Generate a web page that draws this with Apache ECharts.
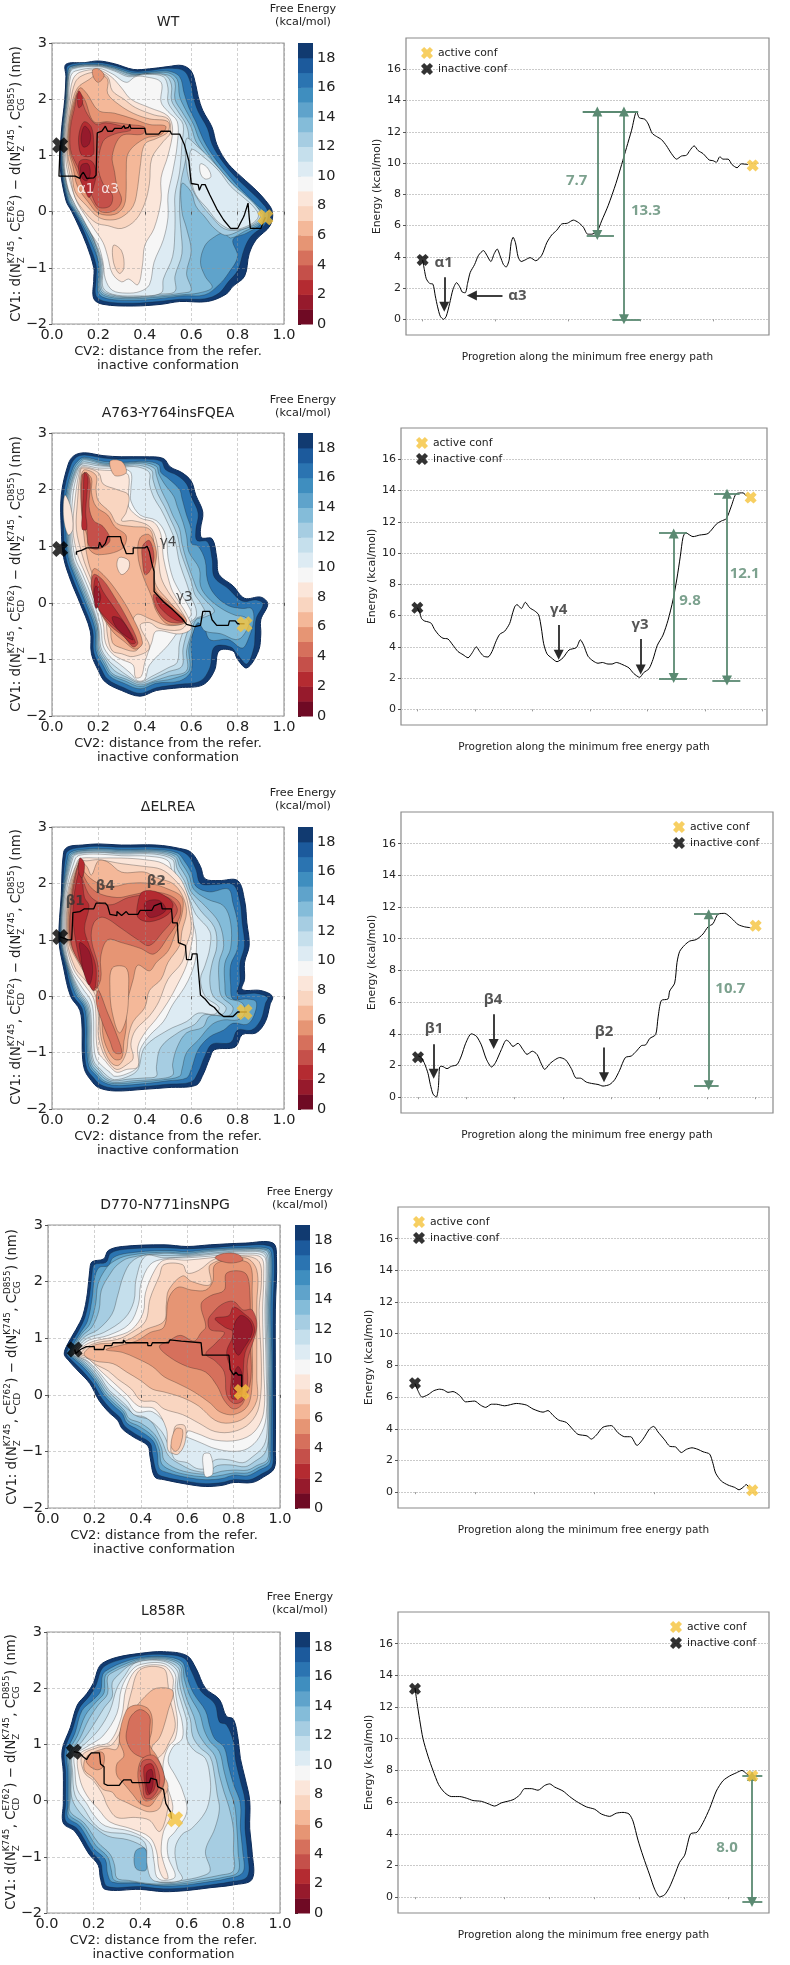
<!DOCTYPE html>
<html><head><meta charset="utf-8"><style>html,body{margin:0;padding:0;background:#fff}#c{width:790px;height:1965px}</style>
<script src="https://cdn.jsdelivr.net/npm/echarts@6/dist/echarts.min.js"></script></head><body><div id="c"></div>
<script>
const bandColors=['#6f0a24','#961a2c','#b42b31','#c5504a','#d6705c','#e69574','#f4b899','#f9d5c0','#fbe6da','#f6f6f6','#ddebf3','#c5dfec','#a6cde2','#84bcd9','#5fa3cb','#3f8ebf','#2b74b1','#1c5a9c','#113a70'];
const bandValues=[0,1,2,3,4,5,6,7,8,9,10,11,12,13,14,15,16,17,18];
const cbTicks=[0,2,4,6,8,10,12,14,16,18];
const energyTicks=[0,2,4,6,8,10,12,14,16];
const panelNames=['WT','A763-Y764insFQEA','ΔELREA','D770-N771insNPG','L858R'];

// Free-energy contour rings: [band, [cv2,cv1,cv2,cv1,...]]
const wtRings=[
[18,[.06,2.62,.14,2.65,.2,2.68,.27,2.63,.35,2.53,.42,2.54,.5,2.58,.56,2.6,.6,2.5,.62,2.25,.63,2.05,.65,1.8,.69,1.5,.71,1.2,.75,.9,.8,.68,.87,.42,.92,.2,.95,0,.94,-.25,.88,-.5,.85,-.75,.83,-1.15,.78,-1.33,.75,-1.47,.67,-1.6,.55,-1.6,.47,-1.65,.35,-1.68,.22,-1.65,.18,-1.55,.18,-1.2,.18,-1,.15,-.6,.115,-.26,.085,0,.06,.2,.035,.8,.04,1.4,.055,2,.06,2.4]],
[16,[.07,2.6,.2,2.65,.27,2.6,.35,2.5,.42,2.51,.5,2.55,.57,2.5,.6,2.25,.61,2.03,.63,1.78,.67,1.48,.69,1.2,.73,.92,.79,.62,.85,.38,.9,.18,.93,0,.92,-.22,.86,-.43,.83,-.65,.8,-1.05,.76,-1.25,.72,-1.45,.66,-1.55,.55,-1.56,.46,-1.6,.35,-1.63,.23,-1.6,.19,-1.5,.19,-1.2,.19,-.95,.16,-.58,.125,-.24,.09,.02,.065,.2,.04,.8,.043,1.4,.058,2,.063,2.4]],
[14,[.08,2.58,.2,2.62,.27,2.57,.35,2.47,.42,2.48,.5,2.5,.55,2.4,.57,2.1,.59,1.85,.62,1.6,.65,1.3,.68,1.08,.72,.85,.77,.6,.83,.33,.88,.13,.915,-.03,.9,-.22,.84,-.38,.78,-.5,.8,-.8,.76,-1.1,.72,-1.3,.66,-1.48,.56,-1.5,.46,-1.55,.35,-1.58,.24,-1.55,.2,-1.45,.2,-1.1,.2,-.9,.17,-.55,.13,-.22,.095,.03,.07,.2,.043,.8,.046,1.4,.06,2,.066,2.4]],
[13,[.08,2.57,.2,2.61,.27,2.55,.345,2.45,.42,2.46,.5,2.47,.54,2.35,.55,2.05,.575,1.82,.61,1.55,.635,1.28,.67,1.05,.71,.82,.76,.57,.815,.33,.87,.12,.91,-.04,.895,-.21,.83,-.35,.77,-.47,.74,-.38,.7,-.45,.66,-.6,.64,-.9,.66,-1.15,.69,-1.35,.63,-1.45,.56,-1.48,.46,-1.52,.35,-1.55,.245,-1.52,.205,-1.42,.205,-1.08,.2,-.87,.175,-.53,.135,-.21,.097,.04,.072,.22,.046,.8,.048,1.4,.062,2,.068,2.4]],
[12,[.085,2.56,.2,2.6,.27,2.54,.34,2.44,.42,2.45,.5,2.43,.53,2.3,.53,2,.56,1.78,.6,1.5,.62,1.25,.66,1.02,.7,.8,.75,.55,.8,.33,.86,.1,.905,-.05,.89,-.2,.82,-.32,.75,-.42,.7,-.3,.66,-.1,.62,.1,.6,.35,.56,.5,.56,0,.58,-.3,.6,-.7,.58,-1.1,.6,-1.4,.56,-1.45,.46,-1.5,.35,-1.53,.25,-1.5,.21,-1.4,.21,-1.05,.205,-.85,.18,-.52,.14,-.2,.1,.05,.075,.25,.048,.8,.05,1.4,.064,2,.07,2.4]],
[11,[.088,2.55,.2,2.59,.27,2.52,.335,2.42,.41,2.45,.49,2.42,.515,2.25,.515,1.98,.545,1.77,.58,1.53,.59,1.25,.575,.9,.555,.5,.55,0,.555,-.3,.56,-.75,.53,-1.15,.53,-1.42,.46,-1.47,.35,-1.52,.255,-1.48,.215,-1.38,.215,-1.03,.208,-.83,.18,-.5,.145,-.19,.105,.06,.078,.26,.05,.8,.052,1.4,.066,2,.072,2.4]],
[11,[.58,1.3,.63,1.15,.68,.95,.73,.72,.78,.48,.83,.3,.88,.1,.9,-.06,.875,-.21,.8,-.33,.74,-.3,.69,-.1,.64,.15,.6,.45,.58,.8]],
[10,[.6,1.1,.66,.95,.72,.72,.77,.45,.82,.27,.87,.08,.89,-.08,.86,-.22,.78,-.32,.72,-.2,.67,.05,.62,.3,.6,.6]],
[10,[.09,2.54,.2,2.58,.27,2.5,.33,2.4,.4,2.44,.48,2.4,.5,2.2,.5,1.95,.53,1.75,.565,1.55,.56,1.2,.55,.7,.53,.3,.53,0,.53,-.3,.52,-.8,.48,-1.2,.47,-1.45,.35,-1.5,.26,-1.47,.22,-1.35,.22,-1,.21,-.8,.18,-.48,.15,-.18,.11,.08,.08,.28,.052,.8,.054,1.4,.068,2,.074,2.4]],
[9,[.1,2.5,.2,2.55,.26,2.45,.32,2.3,.36,2.4,.4,2.4,.47,2.3,.47,1.95,.5,1.78,.54,1.6,.54,1.2,.52,.7,.5,.3,.5,-.1,.48,-.5,.44,-.9,.42,-1.3,.38,-1.42,.32,-1.45,.26,-1.4,.23,-1.2,.22,-.9,.2,-.6,.17,-.4,.13,-.1,.1,.12,.07,.4,.055,.8,.057,1.4,.071,2,.08,2.4]],
[9,[.64,.85,.67,.78,.685,.62,.66,.58,.64,.68]],
[8,[.12,2.48,.2,2.52,.255,2.4,.3,2.2,.34,2,.42,1.85,.5,1.7,.52,1.45,.5,1,.47,.6,.47,.2,.44,-.3,.4,-.6,.39,-.95,.37,-1.3,.33,-1.2,.3,-1.25,.26,-1.1,.24,-.8,.22,-.55,.18,-.3,.14,-.05,.11,.15,.08,.5,.06,.9,.06,1.4,.075,2,.09,2.35]],
[7,[.13,2.42,.19,2.48,.24,2.4,.26,2.15,.31,2,.36,1.85,.44,1.72,.5,1.65,.51,1.4,.48,1.25,.43,.95,.42,.5,.4,.15,.36,-.15,.3,-.3,.24,-.25,.19,-.2,.14,0,.1,.25,.08,.6,.064,1,.064,1.4,.08,1.95,.1,2.3]],
[7,[.265,-.6,.3,-.7,.31,-1,.29,-1.1,.265,-.9]],
[6,[.16,2.35,.2,2.45,.24,2.35,.24,2.1,.29,1.9,.35,1.75,.42,1.65,.5,1.6,.5,1.42,.45,1.3,.4,1.2,.38,.8,.37,.45,.35,.1,.3,-.1,.25,-.15,.2,-.1,.15,.1,.1,.35,.085,.7,.068,1,.068,1.4,.085,1.9,.11,2.2]],
[5,[.175,2.52,.2,2.54,.225,2.42,.2,2.3,.18,2.38]],
[5,[.12,2.2,.15,2.1,.2,1.8,.27,1.75,.35,1.65,.42,1.55,.49,1.52,.47,1.37,.4,1.3,.33,1.05,.32,.7,.32,.4,.31,.1,.27,-.05,.2,-.03,.16,.15,.11,.45,.09,.8,.072,1.1,.072,1.5,.09,1.9]],
[4,[.115,2.1,.14,2,.18,1.6,.24,1.6,.33,1.55,.4,1.5,.39,1.38,.3,1.35,.26,1,.27,.7,.28,.45,.3,.2,.27,.02,.21,0,.17,.2,.13,.5,.1,.8,.076,1.1,.076,1.5,.095,1.9]],
[3,[.11,2.1,.13,1.95,.15,1.75,.19,1.55,.23,1.58,.3,1.52,.34,1.45,.27,1.38,.22,1.25,.2,.8,.22,.5,.26,.3,.25,.1,.2,.08,.17,.3,.14,.55,.11,.8,.08,1.1,.08,1.5,.1,1.9]],
[2,[.14,1.6,.17,1.5,.18,1.2,.175,1,.13,1,.115,1.2,.12,1.45]],
[2,[.12,.9,.17,.9,.19,.7,.18,.45,.16,.25,.14,.4,.12,.6]],
[2,[.115,2.15,.13,2.05,.13,1.9,.115,1.85,.11,2]],
[1,[.14,1.52,.165,1.4,.16,1.2,.135,1.15,.125,1.3]],
[1,[.125,.82,.155,.85,.165,.68,.15,.55,.13,.6]]
];
const a763Rings=[
[18,[.07,2.45,.095,2.6,.14,2.65,.22,2.6,.3,2.58,.4,2.58,.48,2.55,.51,2.4,.56,2.3,.6,2.15,.62,1.9,.65,1.6,.64,1.3,.645,1.15,.69,1.13,.71,.8,.72,.5,.78,.3,.83,.08,.9,.1,.93,-.02,.9,-.3,.9,-.55,.89,-.85,.84,-1.15,.8,-1,.78,-.85,.72,-.85,.7,-1.2,.65,-1.45,.55,-1.5,.45,-1.55,.38,-1.65,.3,-1.55,.23,-1.4,.2,-1.2,.17,-.9,.165,-.5,.12,0,.08,.4,.05,.8,.04,1.3,.04,1.9]],
[16,[.08,2.42,.105,2.57,.14,2.61,.22,2.56,.3,2.54,.4,2.54,.47,2.5,.49,2.35,.54,2.25,.58,2.1,.6,1.88,.63,1.58,.62,1.28,.625,1.1,.67,1.08,.69,.78,.7,.45,.76,.25,.82,.03,.88,.05,.91,-.02,.88,-.28,.875,-.55,.87,-.8,.84,-1.08,.8,-.92,.77,-.78,.7,-.78,.68,-1.15,.64,-1.38,.55,-1.44,.45,-1.5,.38,-1.6,.31,-1.5,.24,-1.35,.21,-1.15,.18,-.88,.175,-.48,.13,.02,.09,.42,.06,.8,.05,1.3,.05,1.9]],
[14,[.09,2.38,.115,2.52,.14,2.57,.22,2.5,.3,2.48,.4,2.5,.46,2.44,.47,2.3,.5,2.2,.55,2,.56,1.85,.58,1.55,.6,1.3,.6,1.05,.63,1,.66,.75,.67,.4,.7,.15,.76,-.05,.82,-.1,.86,-.1,.87,-.3,.85,-.6,.82,-.8,.76,-.65,.68,-.65,.65,-.35,.62,-.4,.6,-.7,.6,-1.2,.55,-1.38,.45,-1.42,.38,-1.52,.31,-1.42,.25,-1.3,.22,-1.1,.19,-.85,.185,-.45,.14,.05,.1,.45,.07,.8,.06,1.3,.06,1.9]],
[13,[.095,2.36,.12,2.5,.14,2.55,.22,2.47,.3,2.46,.39,2.48,.45,2.41,.46,2.28,.485,2.1,.525,1.88,.54,1.7,.565,1.42,.58,1.18,.59,.9,.635,.6,.64,.3,.67,.1,.73,-.1,.79,-.22,.83,-.25,.85,-.35,.82,-.6,.79,-.65,.73,-.55,.66,-.5,.63,-.35,.61,-.5,.59,-.8,.59,-1.2,.52,-1.34,.44,-1.4,.38,-1.48,.315,-1.38,.255,-1.27,.225,-1.07,.195,-.83,.19,-.43,.145,.06,.105,.46,.075,.8,.065,1.3,.065,1.9]],
[12,[.1,2.34,.125,2.48,.14,2.53,.22,2.45,.3,2.44,.38,2.46,.44,2.38,.45,2.25,.47,2,.5,1.75,.52,1.55,.55,1.3,.56,1.05,.58,.75,.61,.4,.63,.2,.66,.05,.7,-.15,.66,-.25,.62,-.3,.6,-.55,.58,-.85,.58,-1.2,.5,-1.3,.44,-1.38,.38,-1.45,.32,-1.35,.26,-1.25,.23,-1.05,.2,-.82,.195,-.42,.15,.08,.11,.48,.08,.8,.07,1.3,.07,1.9]],
[11,[.102,2.32,.128,2.46,.14,2.49,.22,2.43,.3,2.42,.375,2.43,.43,2.34,.435,2.18,.455,1.93,.485,1.7,.51,1.48,.54,1.2,.555,.9,.6,.38,.615,.15,.64,0,.66,-.2,.62,-.28,.59,-.45,.565,-.8,.56,-1.12,.5,-1.22,.435,-1.34,.38,-1.42,.325,-1.32,.27,-1.2,.235,-1.02,.205,-.8,.197,-.41,.155,.09,.115,.49,.085,.8,.075,1.3,.075,1.9]],
[10,[.105,2.3,.13,2.45,.2,2.42,.3,2.4,.37,2.4,.42,2.3,.42,2.1,.44,1.85,.47,1.65,.5,1.4,.53,1.1,.55,.7,.58,.35,.6,.1,.62,-.1,.62,-.25,.58,-.4,.55,-.7,.54,-1.05,.5,-1.15,.43,-1.3,.38,-1.4,.33,-1.3,.28,-1.15,.24,-1,.21,-.78,.2,-.4,.16,.1,.12,.5,.09,.8,.08,1.3,.08,1.9]],
[9,[.11,2.28,.13,2.42,.2,2.38,.3,2.37,.34,2.3,.34,2,.34,1.8,.38,1.55,.45,1.45,.49,1.2,.5,.8,.52,.45,.55,.2,.58,0,.6,-.2,.57,-.35,.5,-.75,.42,-1.1,.4,-1.35,.37,-1.38,.34,-1.25,.29,-1.08,.25,-.95,.22,-.75,.21,-.4,.17,.12,.13,.52,.1,.8,.085,1.3,.09,1.9]],
[8,[.115,2.26,.13,2.4,.2,2.35,.3,2.32,.33,2.25,.33,1.95,.33,1.7,.38,1.5,.44,1.42,.47,1.2,.48,.8,.5,.45,.52,.2,.55,0,.58,-.2,.6,-.45,.55,-.55,.45,-.5,.43,-.7,.4,-1.05,.385,-1.3,.36,-1.32,.35,-1.1,.3,-1,.26,-.9,.23,-.7,.22,-.35,.18,.15,.14,.55,.11,.85,.09,1.3,.1,1.85]],
[8,[.055,1.9,.08,1.7,.09,1.3,.07,1.2,.05,1.5]],
[7,[.12,2.25,.13,2.38,.2,2.3,.22,2.1,.28,2,.33,1.9,.32,1.6,.3,1.45,.35,1.45,.42,1.35,.45,1.1,.46,.75,.47,.45,.5,.2,.55,-.1,.58,-.35,.55,-.48,.46,-.45,.42,-.35,.38,-.4,.42,-.8,.35,-.95,.3,-.9,.26,-.85,.24,-.6,.23,-.25,.19,.2,.15,.6,.13,.85,.105,1.3,.11,1.8]],
[6,[.125,2.22,.14,2.35,.19,2.25,.19,2,.2,1.8,.25,1.6,.28,1.4,.34,1.35,.42,1.3,.44,1,.44,.55,.45,.3,.5,.05,.55,-.2,.57,-.35,.5,-.4,.42,-.28,.37,-.2,.35,-.3,.38,-.7,.36,-.85,.3,-.8,.26,-.7,.25,-.3,.22,.1,.17,.55,.15,.85,.135,1.3,.13,1.75]],
[6,[.25,2.5,.3,2.5,.32,2.3,.27,2.25]],
[8,[.29,.8,.33,.75,.33,.6,.3,.5,.28,.65]],
[5,[.125,2.2,.14,2.3,.17,2.2,.17,1.95,.19,1.7,.24,1.55,.27,1.35,.32,1.18,.3,.95,.2,.85,.16,.95,.15,1.2,.13,1.5]],
[5,[.18,.6,.22,.5,.28,.2,.34,-.2,.39,-.7,.36,-.82,.31,-.68,.26,-.5,.2,-.1,.17,.3]],
[5,[.38,1.15,.42,1.2,.45,.9,.44,.5,.45,.2,.52,-.05,.58,-.33,.5,-.38,.45,-.15,.43,.1,.39,.5,.37,.85]],
[3,[.13,2.25,.15,2.3,.165,2.1,.16,1.7,.18,1.45,.22,1.35,.25,1.1,.2,.95,.16,1,.15,1.3,.13,1.55]],
[3,[.18,.5,.22,.4,.27,.1,.32,-.25,.37,-.7,.35,-.78,.31,-.6,.25,-.4,.2,-.1,.17,.25]],
[3,[.39,1,.42,1.1,.44,.8,.42,.55,.4,.5,.39,.75]],
[3,[.44,.15,.52,-.1,.57,-.33,.5,-.33,.45,-.1]],
[2,[.14,2.3,.155,2.2,.15,1.9,.145,1.6,.15,1.3,.13,1.3,.13,1.55,.135,1.9]],
[2,[.19,.45,.22,.2,.27,-.1,.32,-.4,.36,-.7,.34,-.72,.29,-.5,.24,-.3,.2,-.1,.18,.2]],
[2,[.45,.1,.52,-.13,.57,-.32,.53,-.3,.47,-.1]],
[1,[.19,.3,.21,.1,.19,-.1,.18,.15]],
[1,[.26,-.25,.3,-.3,.35,-.65,.33,-.62,.28,-.45]]
];
const elreaRings=[
[18,[.05,2.55,.07,2.65,.13,2.68,.2,2.7,.3,2.68,.45,2.68,.55,2.62,.6,2.55,.64,2.3,.66,2.08,.72,2.05,.8,2.05,.83,1.7,.84,1.3,.85,.9,.83,.6,.83,.3,.82,.12,.9,.1,.95,0,.94,-.15,.92,-.45,.88,-.65,.82,-.68,.79,-.9,.7,-.95,.68,-1.1,.65,-1.4,.62,-1.58,.5,-1.62,.4,-1.65,.27,-1.68,.2,-1.62,.17,-1.5,.14,-1.3,.13,-.95,.13,-.6,.12,-.25,.08,0,.05,.5,.03,1,.04,1.8]],
[16,[.06,2.52,.08,2.6,.13,2.64,.2,2.66,.3,2.64,.45,2.64,.55,2.58,.59,2.48,.62,2.25,.64,2,.7,1.98,.78,1.98,.81,1.68,.82,1.3,.83,.9,.81,.58,.81,.25,.8,.05,.88,.05,.93,-.02,.92,-.13,.9,-.42,.86,-.6,.8,-.6,.77,-.82,.69,-.85,.66,-1.05,.63,-1.35,.6,-1.52,.5,-1.56,.4,-1.6,.27,-1.63,.21,-1.57,.18,-1.45,.15,-1.28,.14,-.93,.14,-.58,.13,-.22,.09,.02,.06,.5,.034,1,.044,1.8]],
[14,[.07,2.5,.09,2.57,.13,2.6,.2,2.62,.3,2.6,.45,2.6,.54,2.54,.57,2.4,.6,2.2,.62,1.95,.68,1.85,.76,1.9,.78,1.65,.8,1.3,.8,.85,.77,.55,.77,.2,.78,-.05,.84,-.05,.88,-.1,.87,-.35,.84,-.5,.78,-.48,.74,-.6,.68,-.72,.63,-.95,.6,-1.3,.58,-1.45,.5,-1.5,.4,-1.55,.27,-1.58,.22,-1.52,.19,-1.4,.16,-1.25,.15,-.9,.15,-.55,.14,-.2,.1,.05,.065,.5,.038,1,.046,1.8]],
[13,[.075,2.48,.095,2.55,.13,2.58,.2,2.6,.3,2.58,.45,2.58,.535,2.51,.56,2.35,.59,2.15,.61,1.9,.67,1.72,.74,1.6,.77,1.3,.77,.85,.745,.58,.745,.22,.755,-.02,.82,-.12,.83,-.3,.8,-.42,.74,-.42,.69,-.5,.63,-.78,.58,-1,.56,-1.3,.55,-1.42,.48,-1.48,.38,-1.52,.27,-1.55,.225,-1.5,.195,-1.38,.165,-1.22,.155,-.89,.155,-.53,.145,-.19,.105,.065,.068,.5,.04,1,.048,1.8]],
[12,[.08,2.47,.1,2.54,.13,2.57,.2,2.58,.3,2.56,.45,2.56,.53,2.48,.55,2.3,.58,2.1,.6,1.85,.66,1.6,.72,1.3,.74,.9,.72,.6,.72,.25,.73,0,.78,-.2,.76,-.35,.68,-.35,.65,-.55,.58,-.65,.54,-.9,.52,-1.2,.52,-1.4,.45,-1.47,.35,-1.5,.27,-1.53,.23,-1.47,.2,-1.35,.17,-1.2,.16,-.88,.16,-.52,.15,-.18,.11,.08,.07,.5,.042,1,.05,1.8]],
[11,[.085,2.46,.105,2.53,.13,2.55,.2,2.56,.3,2.54,.45,2.54,.525,2.45,.54,2.25,.57,2.05,.595,1.8,.64,1.52,.7,1.22,.71,.88,.69,.58,.68,.28,.695,0,.75,-.2,.73,-.33,.655,-.33,.615,-.5,.55,-.63,.47,-.9,.45,-1.25,.45,-1.42,.4,-1.45,.33,-1.47,.27,-1.5,.235,-1.45,.205,-1.32,.175,-1.17,.165,-.86,.165,-.51,.155,-.17,.115,.09,.073,.5,.045,1,.052,1.8]],
[10,[.09,2.45,.11,2.52,.2,2.55,.3,2.52,.44,2.52,.52,2.42,.53,2.2,.56,2,.59,1.75,.62,1.45,.68,1.15,.68,.85,.66,.55,.64,.3,.66,0,.72,-.2,.7,-.32,.63,-.3,.58,-.45,.5,-.6,.4,-.9,.37,-1.3,.33,-1.42,.27,-1.48,.24,-1.42,.21,-1.3,.18,-1.15,.17,-.85,.17,-.5,.16,-.15,.12,.1,.076,.5,.05,1,.055,1.8]],
[9,[.1,2.43,.12,2.5,.2,2.52,.3,2.49,.42,2.48,.5,2.4,.52,2.15,.55,1.9,.58,1.7,.6,1.4,.62,1.1,.62,.7,.6,.4,.57,.15,.52,-.15,.48,-.45,.42,-.7,.38,-.95,.37,-1.25,.32,-1.38,.27,-1.42,.25,-1.35,.22,-1.25,.19,-1.1,.18,-.8,.18,-.45,.17,-.1,.13,.15,.08,.5,.055,1,.06,1.8]],
[8,[.11,2.4,.13,2.45,.2,2.45,.3,2.45,.4,2.42,.48,2.35,.55,2.1,.58,1.85,.6,1.55,.61,1.2,.6,.9,.58,.55,.54,.2,.5,-.1,.45,-.4,.4,-.65,.37,-.9,.37,-1.25,.32,-1.3,.28,-1.35,.25,-1.25,.23,-1.15,.2,-1,.19,-.7,.19,-.4,.18,-.05,.14,.2,.09,.5,.06,1,.065,1.8]],
[7,[.115,2.4,.15,2.4,.2,2.42,.3,2.35,.4,2.3,.47,2.25,.52,2.1,.57,1.85,.59,1.55,.6,1.2,.58,.9,.56,.6,.5,.3,.46,-.1,.42,-.35,.36,-.6,.34,-.85,.35,-1.1,.32,-1.22,.28,-1.3,.25,-1.2,.22,-1,.2,-.7,.2,-.4,.19,-.02,.15,.25,.1,.5,.065,1,.07,1.8]],
[6,[.12,2.38,.15,2.3,.17,2.15,.2,2.4,.24,2.38,.3,2.2,.4,2.2,.45,2.1,.52,2,.56,1.8,.58,1.5,.56,1.15,.55,.9,.5,.6,.47,.3,.42,.1,.4,-.2,.35,-.45,.33,-.7,.32,-1,.29,-1.22,.26,-1.2,.23,-1,.21,-.7,.205,-.4,.2,0,.16,.3,.12,.55,.07,1,.075,1.8]],
[5,[.125,2.4,.14,2.2,.2,2,.27,1.95,.33,2,.42,2,.5,1.9,.56,1.75,.56,1.45,.53,1.1,.5,.8,.45,.6,.42,.45,.37,.55,.35,.3,.32,-.2,.32,-.55,.31,-.8,.3,-1.1,.27,-1.12,.24,-.95,.22,-.7,.215,-.35,.21,0,.17,.35,.13,.55,.075,1,.08,1.8]],
[6,[.26,.5,.32,.5,.33,.1,.32,-.4,.29,-.65,.26,-.3,.25,.1]],
[4,[.12,2.4,.14,2.1,.19,1.85,.28,1.75,.35,1.8,.42,1.85,.5,1.8,.55,1.65,.55,1.4,.5,1.05,.44,.75,.38,.85,.3,.95,.24,1,.21,.7,.21,.3,.18,.1,.14,.5,.08,1,.085,1.8]],
[4,[.2,.1,.24,-.3,.28,-.7,.3,-1,.27,-1,.25,-.8,.22,-.5,.19,-.1]],
[3,[.115,2.35,.13,2.1,.17,1.75,.25,1.62,.33,1.75,.42,1.8,.5,1.75,.54,1.55,.52,1.35,.48,1.15,.42,.9,.37,1,.3,1.2,.22,1.4,.18,1.3,.17,1,.2,.5,.19,.15,.14,.45,.085,.9,.08,1.5]],
[2,[.115,2.2,.13,2.05,.14,1.75,.16,1.6,.14,1.2,.16,.9,.19,.5,.18,.1,.14,.4,.11,.8,.09,1.5]],
[2,[.39,1.85,.45,1.85,.52,1.65,.5,1.45,.42,1.32,.37,1.4,.37,1.65]],
[2,[.12,2.45,.14,2.35,.13,2.1,.115,2.2]],
[1,[.12,.95,.16,.8,.175,.45,.16,.2,.135,.45,.125,.7]],
[1,[.4,1.65,.46,1.7,.49,1.52,.42,1.4]]
];
const d770Rings=[
[18,[.07,.72,.085,.9,.12,1.15,.15,1.4,.17,1.8,.18,2.2,.19,2.35,.24,2.4,.26,2.55,.32,2.62,.5,2.65,.6,2.62,.7,2.65,.85,2.68,.97,2.68,.985,2.4,.98,1.5,.98,.5,.98,-1,.975,-1.3,.93,-1.45,.88,-1.55,.8,-1.55,.75,-1.6,.68,-1.62,.6,-1.58,.5,-1.5,.46,-1.45,.44,-1.1,.43,-.9,.37,-.75,.32,-.6,.3,-.45,.26,-.3,.22,-.1,.18,.2,.13,.42,.09,.6]],
[16,[.08,.72,.095,.88,.13,1.12,.16,1.38,.18,1.78,.19,2.15,.2,2.3,.25,2.34,.27,2.5,.33,2.57,.5,2.6,.6,2.58,.7,2.6,.85,2.64,.96,2.62,.975,2.4,.97,1.5,.97,.5,.97,-1,.965,-1.27,.92,-1.4,.87,-1.5,.8,-1.5,.75,-1.55,.68,-1.57,.6,-1.53,.5,-1.45,.47,-1.38,.45,-1.05,.44,-.85,.38,-.7,.33,-.55,.31,-.4,.27,-.25,.23,-.05,.19,.22,.14,.46,.1,.62]],
[14,[.09,.72,.105,.86,.14,1.1,.17,1.3,.19,1.7,.2,2.05,.22,2.25,.26,2.28,.28,2.42,.34,2.5,.5,2.55,.6,2.53,.7,2.57,.85,2.6,.95,2.58,.965,2.4,.96,1.5,.965,.5,.96,-1,.955,-1.22,.91,-1.33,.86,-1.43,.8,-1.42,.75,-1.48,.68,-1.5,.6,-1.46,.52,-1.38,.48,-1.3,.47,-1,.45,-.8,.39,-.62,.34,-.5,.32,-.33,.28,-.18,.24,0,.2,.26,.15,.5,.11,.64]],
[13,[.095,.72,.11,.85,.145,1.08,.18,1.25,.205,1.6,.215,1.95,.245,2.2,.28,2.35,.345,2.46,.5,2.52,.6,2.5,.7,2.55,.85,2.58,.945,2.56,.96,2.4,.955,1.5,.96,.5,.955,-.95,.95,-1.18,.905,-1.29,.86,-1.38,.8,-1.38,.75,-1.42,.69,-1.45,.61,-1.42,.535,-1.34,.49,-1.22,.48,-.97,.455,-.75,.395,-.56,.345,-.46,.325,-.3,.285,-.15,.245,.02,.205,.28,.155,.52,.115,.65]],
[12,[.1,.72,.115,.85,.15,1.05,.19,1.2,.22,1.5,.23,1.85,.27,2.15,.3,2.3,.35,2.42,.5,2.5,.6,2.48,.7,2.53,.85,2.57,.94,2.55,.955,2.4,.95,1.5,.955,.5,.95,-.9,.945,-1.15,.9,-1.25,.86,-1.33,.8,-1.33,.75,-1.35,.7,-1.4,.62,-1.38,.55,-1.3,.5,-1.15,.49,-.95,.46,-.7,.4,-.5,.35,-.42,.33,-.28,.29,-.12,.25,.05,.21,.3,.16,.54,.12,.66]],
[11,[.105,.72,.122,.85,.16,1.03,.215,1.15,.275,1.42,.3,1.75,.325,2.1,.36,2.35,.42,2.47,.5,2.46,.6,2.46,.7,2.5,.85,2.55,.935,2.52,.95,2.35,.945,1.5,.95,.5,.95,-.75,.935,-1.03,.89,-1.18,.85,-1.27,.79,-1.24,.73,-1.25,.69,-1.36,.63,-1.34,.58,-1.25,.52,-1.08,.49,-.8,.44,-.45,.385,-.38,.34,-.24,.295,-.08,.255,.08,.215,.32,.165,.56,.125,.665]],
[10,[.11,.72,.13,.85,.17,1,.24,1.1,.33,1.35,.37,1.65,.38,2.05,.42,2.45,.5,2.42,.6,2.44,.7,2.48,.85,2.53,.93,2.5,.945,2.3,.94,1.5,.945,.5,.945,-.6,.93,-.9,.88,-1.1,.84,-1.2,.78,-1.15,.72,-1.15,.68,-1.3,.64,-1.3,.6,-1.2,.55,-1.15,.53,-1,.49,-.65,.42,-.4,.37,-.35,.34,-.2,.3,-.05,.26,.1,.22,.35,.17,.58,.13,.67]],
[9,[.12,.72,.14,.85,.18,.97,.26,1.05,.35,1.25,.39,1.6,.4,1.95,.44,2.3,.5,2.4,.6,2.42,.7,2.45,.85,2.5,.93,2.45,.94,2.2,.935,1.5,.94,.5,.94,-.4,.91,-.75,.86,-.95,.8,-1,.72,-.95,.66,-.85,.6,-.75,.56,-.7,.52,-.55,.45,-.3,.38,-.3,.34,-.1,.3,.05,.26,.2,.22,.4,.17,.6,.13,.68]],
[9,[.67,-1.05,.7,-1.05,.71,-1.4,.68,-1.45,.67,-1.3]],
[8,[.13,.72,.15,.85,.2,.95,.28,1.02,.36,1.15,.41,1.45,.42,1.8,.46,2.2,.5,2.38,.6,2.38,.7,2.42,.85,2.47,.92,2.42,.93,2.1,.925,1.5,.93,.5,.93,-.3,.89,-.65,.82,-.8,.72,-.8,.64,-.68,.6,-.65,.57,-1,.52,-1,.51,-.6,.46,-.25,.39,-.2,.34,0,.3,.15,.26,.3,.22,.45,.18,.62,.14,.68]],
[7,[.14,.72,.17,.85,.22,.93,.3,.98,.36,1.1,.42,1.3,.44,1.7,.48,2.1,.5,2.3,.58,2.3,.6,2.15,.65,2.2,.72,2.4,.85,2.45,.91,2.35,.92,2,.91,1.5,.92,.5,.91,-.2,.87,-.5,.8,-.65,.72,-.65,.65,-.5,.58,-.35,.5,-.25,.46,-.12,.4,-.1,.36,.1,.3,.28,.26,.42,.2,.55,.16,.68]],
[7,[.55,-.55,.59,-.55,.59,-.85,.56,-1.05,.53,-1,.54,-.75]],
[6,[.155,.72,.2,.88,.3,.92,.36,1,.42,1.15,.5,1.3,.51,1.6,.52,1.85,.58,2.1,.62,2,.7,1.95,.7,2.3,.85,2.42,.9,2.2,.9,1.6,.9,.8,.9,.3,.9,-.1,.85,-.4,.78,-.5,.72,-.45,.65,-.2,.58,-.05,.5,.05,.45,.1,.4,.25,.34,.4,.28,.55,.2,.6]],
[6,[.55,-.6,.58,-.62,.57,-.9,.55,-1,.53,-.9]],
[5,[.38,.95,.44,1.1,.5,1.2,.52,1.7,.56,1.9,.62,1.85,.68,1.85,.71,2,.72,2.3,.8,2.38,.87,2.3,.88,1.8,.88,.9,.88,.2,.86,-.2,.8,-.35,.74,-.3,.7,-.15,.63,.05,.56,.2,.5,.32,.45,.5,.38,.65,.32,.75,.25,.8]],
[4,[.52,.95,.57,1.05,.63,.95,.66,1.1,.68,1.2,.66,1.6,.7,1.75,.76,1.85,.77,2.15,.85,2.15,.87,1.8,.87,1,.875,.3,.84,-.15,.8,-.25,.76,-.1,.73,.15,.68,.4,.6,.5,.53,.65,.48,.85]],
[4,[.72,2.42,.76,2.5,.82,2.48,.84,2.38,.78,2.33]],
[3,[.7,1.4,.75,1.6,.8,1.65,.84,1.5,.88,1.5,.9,1.2,.86,.6,.86,.2,.84,-.1,.8,-.15,.77,0,.76,.4,.72,.6,.68,.72,.72,.9,.76,1.1,.7,1.15,.69,1.3]],
[2,[.72,1.35,.78,1.4,.8,1.55,.85,1.42,.88,1.3,.89,1.1,.85,.75,.84,.3,.83,-.05,.79,-.05,.79,.4,.77,.75,.8,1.1,.76,1.2]],
[1,[.8,1.2,.83,1.4,.87,1.3,.88,1.1,.84,.8,.82,.7,.8,.85]],
[1,[.82,.5,.84,.3,.83,.05,.8,.1,.8,.35]]
];
const l858Rings=[
[18,[.22,2.35,.24,2.45,.3,2.55,.4,2.62,.5,2.65,.6,2.58,.64,2.35,.68,2,.74,1.8,.77,1.5,.8,1.45,.82,1.1,.83,.75,.85,.4,.87,0,.87,-.5,.88,-.9,.88,-1.4,.8,-1.5,.7,-1.55,.6,-1.6,.5,-1.62,.4,-1.58,.25,-1.58,.23,-1.4,.22,-1.15,.18,-.95,.12,-.55,.07,-.4,.07,-.05,.07,.5,.065,.9,.1,1.3,.13,1.7,.17,1.9,.2,2.1]],
[16,[.23,2.3,.25,2.4,.31,2.5,.4,2.58,.5,2.6,.59,2.53,.62,2.3,.66,1.95,.72,1.72,.74,1.4,.77,1.35,.8,1.05,.81,.7,.83,.35,.85,0,.85,-.5,.86,-.9,.86,-1.35,.78,-1.45,.7,-1.5,.6,-1.55,.5,-1.57,.4,-1.53,.26,-1.53,.24,-1.35,.23,-1.1,.19,-.9,.13,-.5,.08,-.36,.08,-.05,.08,.5,.075,.88,.11,1.27,.14,1.65,.18,1.85,.21,2.05]],
[14,[.24,2.25,.27,2.35,.32,2.45,.4,2.54,.5,2.56,.58,2.47,.6,2.2,.63,1.9,.68,1.6,.7,1.3,.72,1.1,.76,.95,.78,.6,.8,.3,.83,-.05,.83,-.5,.84,-.9,.84,-1.28,.76,-1.4,.7,-1.44,.6,-1.5,.5,-1.52,.4,-1.47,.28,-1.45,.26,-1.3,.25,-1.05,.2,-.85,.14,-.45,.09,-.3,.09,-.05,.09,.5,.085,.86,.12,1.2,.15,1.6,.2,1.8,.23,1.95]],
[13,[.25,2.22,.28,2.32,.33,2.42,.4,2.52,.5,2.54,.575,2.43,.59,2.15,.615,1.85,.655,1.55,.675,1.25,.7,1.05,.74,.87,.76,.52,.78,.22,.805,-.08,.815,-.5,.82,-.9,.82,-1.27,.75,-1.37,.68,-1.42,.58,-1.48,.47,-1.5,.37,-1.45,.29,-1.42,.275,-1.22,.26,-1,.21,-.8,.15,-.42,.095,-.25,.095,0,.095,.5,.092,.85,.13,1.15,.165,1.52,.21,1.75,.245,1.92]],
[12,[.26,2.2,.29,2.3,.34,2.4,.4,2.5,.5,2.52,.57,2.4,.58,2.1,.6,1.8,.63,1.5,.65,1.2,.68,1,.72,.8,.74,.45,.76,.15,.78,-.1,.8,-.5,.8,-.9,.8,-1.25,.74,-1.33,.65,-1.4,.55,-1.47,.45,-1.48,.35,-1.42,.3,-1.38,.29,-1.15,.27,-.95,.22,-.75,.16,-.4,.1,-.2,.1,.05,.1,.5,.1,.84,.14,1.1,.18,1.45,.22,1.7,.26,1.9]],
[11,[.28,2.1,.31,2.25,.36,2.42,.42,2.49,.5,2.5,.565,2.35,.57,2.05,.59,1.75,.615,1.45,.625,1.15,.655,.95,.7,.78,.72,.42,.73,.12,.74,-.15,.72,-.5,.68,-.9,.7,-1.25,.66,-1.35,.58,-1.42,.52,-1.46,.47,-1.42,.445,-1.1,.42,-.85,.35,-.7,.26,-.63,.19,-.42,.13,-.15,.105,.08,.105,.5,.105,.83,.15,1.05,.2,1.35,.245,1.65,.28,1.85]],
[14,[.38,-.9,.42,-.85,.43,-1.15,.42,-1.25,.38,-1.2]],
[10,[.3,2,.33,2.2,.38,2.45,.5,2.48,.56,2.3,.56,2,.58,1.7,.6,1.4,.6,1.1,.63,.9,.68,.75,.7,.4,.7,.1,.68,-.2,.62,-.5,.58,-.6,.55,-.85,.56,-1.2,.58,-1.4,.5,-1.45,.45,-1.4,.43,-1.15,.42,-.75,.35,-.6,.25,-.55,.2,-.4,.16,-.15,.12,.1,.11,.5,.11,.82,.16,1,.22,1.25,.27,1.6]],
[9,[.32,2,.36,2.3,.4,2.42,.5,2.44,.55,2.25,.55,2,.56,1.7,.58,1.4,.58,1.1,.54,.95,.52,.7,.55,.45,.58,.2,.6,-.2,.55,-.55,.52,-.7,.52,-1,.55,-1.35,.5,-1.42,.47,-1.35,.46,-1.1,.44,-.75,.36,-.55,.25,-.45,.2,-.25,.17,-.05,.13,.2,.12,.55,.12,.8,.18,.98,.24,1.15,.3,1.55]],
[8,[.34,2,.39,2.35,.5,2.4,.54,2.2,.54,1.95,.55,1.7,.56,1.4,.55,1.1,.52,.95,.5,.7,.5,.45,.52,.2,.54,-.1,.53,-.3,.5,-.55,.49,-.9,.5,-1.1,.52,-1.38,.5,-1.38,.48,-1.2,.47,-.9,.44,-.65,.36,-.5,.27,-.38,.22,-.15,.17,.1,.14,.4,.135,.8,.2,.96,.27,1.05,.32,1.5]],
[7,[.36,1.9,.4,2.33,.5,2.35,.52,2.05,.52,1.9,.54,1.6,.55,1.3,.52,1,.5,.85,.47,.7,.5,.4,.52,.1,.52,-.1,.5,-.45,.48,-.55,.44,-.35,.38,-.3,.3,-.3,.26,-.1,.24,.1,.2,.35,.16,.5,.15,.8,.22,.95,.28,1,.33,1.4]],
[6,[.37,1.6,.42,1.85,.47,2,.54,1.95,.52,1.6,.5,1.3,.48,1.1,.45,.95,.46,.7,.5,.45,.52,.25,.5,.05,.48,-.15,.44,-.2,.4,-.15,.35,-.05,.3,.05,.28,.15,.24,.2,.2,.4,.16,.55,.17,.78,.25,.93,.3,.92,.32,1.3]],
[5,[.34,1.6,.38,1.7,.43,1.65,.45,1.5,.45,1.25,.44,1,.47,.8,.5,.5,.5,.25,.47,.05,.44,-.1,.4,-.05,.37,.1,.33,.3,.3,.45,.3,.65,.33,.8,.31,1.1]],
[5,[.18,.82,.24,.85,.24,.6,.21,.55,.17,.68]],
[4,[.36,1.5,.4,1.62,.44,1.5,.44,1.25,.44,.95,.44,.75,.39,.8,.36,.9,.34,1.1,.345,1.3]],
[4,[.41,.75,.46,.8,.5,.5,.5,.28,.46,.05,.42,0,.4,.2,.39,.5]],
[3,[.41,.7,.45,.72,.48,.5,.48,.25,.45,.05,.42,.05,.41,.3,.4,.5]],
[2,[.42,.62,.45,.65,.465,.45,.46,.2,.43,.1,.42,.3,.415,.5]],
[1,[.43,.52,.45,.55,.455,.3,.44,.12,.43,.2,.425,.4]]
];

// Minimum free energy paths on the maps [cv2, cv1]
const wtPath=[[.035,1.18],[.03,.63],[.1,.63],[.12,.59],[.125,.65],[.135,.7],[.15,.59],[.18,.6],[.19,.65],[.195,1.4],[.215,1.43],[.23,1.52],[.24,1.43],[.26,1.43],[.27,1.48],[.3,1.48],[.31,1.53],[.315,1.48],[.33,1.5],[.335,1.55],[.34,1.48],[.4,1.48],[.405,1.38],[.46,1.38],[.47,1.43],[.51,1.43],[.515,1.38],[.55,1.38],[.57,1.2],[.59,.9],[.6,.5],[.63,.48],[.635,.38],[.645,.48],[.66,.48],[.68,.3],[.71,.05],[.74,-.15],[.77,-.3],[.8,-.3],[.81,-.22],[.825,-.1],[.83,-.05],[.845,.15],[.85,-.1],[.855,-.3],[.9,-.3],[.91,-.2],[.92,-.1]];
const a763Path=[[.105,.85],[.105,.9],[.13,.93],[.15,.97],[.2,.97],[.205,1.07],[.215,.98],[.23,1.05],[.24,1.17],[.295,1.17],[.3,1.08],[.315,.93],[.32,.87],[.35,.87],[.35,.97],[.4,.97],[.41,1],[.42,.9],[.43,.7],[.44,.55],[.44,.2],[.48,.02],[.52,-.12],[.56,-.28],[.58,-.38],[.615,-.42],[.64,-.4],[.65,-.15],[.68,-.15],[.69,-.3],[.71,-.4],[.76,-.4],[.765,-.32],[.79,-.32],[.8,-.37],[.83,-.37]];
const elreaPath=[[.035,1.05],[.07,1],[.085,1],[.09,1.48],[.12,1.5],[.14,1.55],[.18,1.55],[.19,1.65],[.23,1.65],[.24,1.6],[.25,1.45],[.28,1.43],[.28,1.5],[.3,1.43],[.32,1.5],[.33,1.45],[.37,1.45],[.38,1.52],[.43,1.52],[.44,1.6],[.47,1.65],[.475,1.55],[.515,1.55],[.52,1.3],[.54,1.3],[.545,.95],[.575,.9],[.58,.65],[.6,.65],[.605,.75],[.625,.75],[.63,.5],[.64,.02],[.66,-.05],[.68,-.15],[.7,-.2],[.72,-.3],[.74,-.36],[.78,-.36],[.8,-.28],[.84,-.28]];
const d770Path=[[.115,.8],[.12,.73],[.14,.8],[.165,.85],[.2,.85],[.2,.8],[.24,.8],[.245,.87],[.275,.87],[.28,.92],[.325,.92],[.325,.97],[.335,.92],[.43,.92],[.43,.87],[.445,.87],[.45,.92],[.52,.92],[.525,.97],[.575,.95],[.58,.92],[.66,.92],[.665,.7],[.78,.7],[.785,.45],[.8,.35],[.81,.4],[.82,.35],[.835,.35],[.835,.1]];
const l858Path=[[.115,.87],[.14,.85],[.155,.78],[.17,.73],[.18,.8],[.19,.85],[.225,.85],[.23,.65],[.245,.6],[.245,.3],[.26,.27],[.31,.27],[.32,.33],[.33,.37],[.36,.37],[.365,.32],[.41,.32],[.44,.32],[.445,.4],[.47,.37],[.475,.25],[.5,.2],[.51,-.05],[.53,-.2],[.535,-.32]];

const mapInactive=[[.035,1.18],[.035,.95],[.035,1.05],[.115,.8],[.115,.87]];
const mapActive=[[.92,-.1],[.83,-.38],[.83,-.28],[.835,.05],[.55,-.33]];
const mapLabels=[
 [[.145,.4,'α1','#fff',0],[.25,.4,'α3','#fff',0]],
 [[.5,1.07,'γ4','#222',0],[.57,.1,'γ3','#222',0]],
 [[.1,1.68,'β1','#333',1],[.23,1.95,'β4','#333',1],[.45,2.03,'β2','#333',1]],
 [],[]
];

// Energy profiles [progress, kcal/mol]
const wtCurve=[[187,3.8],[192,3.2],[198,2.6],[208,2.3],[218,2.25],[225,1.5],[232,.8],[240,.2],[250,0],[258,.2],[268,1],[278,1.9],[289,2.35],[298,2.1],[306,1.75],[315,1.7],[322,2.3],[330,3],[343,3.5],[355,4.1],[370,4.4],[380,4.1],[392,3.7],[402,4.2],[411,4.5],[420,4.05],[430,3.5],[438,3.35],[447,3.8],[453,4.9],[459,5.25],[466,4.9],[474,4],[483,3.7],[495,3.8],[510,3.95],[527,3.75],[545,4.1],[560,4.9],[575,5.4],[590,5.7],[605,6.1],[622,6.15],[640,6.35],[655,6.2],[670,5.9],[683,5.45],[695,5.45],[712,5.65],[725,6.3],[745,7.3],[768,8.7],[785,9.9],[800,11],[815,12.1],[830,13.3],[838,12.9],[855,12.8],[865,12.5],[877,11.9],[890,11.7],[905,11.5],[920,11.1],[935,10.6],[950,10.25],[965,10.45],[980,10.5],[990,10.8],[1003,11.1],[1015,10.8],[1030,10.6],[1048,10.2],[1060,10.15],[1070,10.05],[1080,10.4],[1090,10.25],[1105,10.25],[1117,9.9],[1132,9.7],[1145,9.95],[1165,9.9]];
const a763Curve=[[173,6.5],[180,6.2],[186,5.8],[195,5.65],[205,5.6],[215,5.5],[225,5.1],[240,4.7],[250,4.55],[265,4.5],[280,4.1],[295,3.7],[310,3.5],[325,3.3],[337,3.6],[350,4],[360,3.7],[372,3.4],[385,3.35],[397,3.7],[408,4.3],[420,4.8],[435,5],[450,5.5],[458,6.1],[466,6.6],[472,6.7],[485,6.45],[497,6.85],[510,6.5],[525,6.3],[537,6.05],[545,5.2],[552,4.2],[562,3.55],[575,3.3],[592,3.05],[610,3.3],[628,3.8],[650,3.95],[662,4.45],[672,4.1],[685,3.4],[700,3.1],[715,2.95],[728,3],[745,2.9],[757,2.9],[770,3],[790,2.85],[808,2.65],[822,2.3],[840,2.05],[852,2.35],[868,2.6],[880,3.2],[893,4.1],[910,4.75],[925,5.7],[940,7],[952,8.4],[962,9.8],[970,11],[978,11.3],[1000,11.05],[1020,11.15],[1045,11.25],[1070,11.85],[1085,12.05],[1100,12.2],[1115,13],[1130,13.8],[1150,13.85],[1160,13.65]];
const elreaCurve=[[176,2.6],[185,2.5],[195,2.1],[205,1.5],[212,.8],[220,.2],[230,0],[236,.6],[240,1.9],[247,1.95],[262,1.8],[275,1.95],[292,2.05],[305,2.6],[318,3.4],[335,4],[350,3.85],[365,3.3],[380,2.4],[396,1.9],[408,2.2],[425,3],[440,3.6],[448,3.5],[460,3.2],[475,3.4],[490,3],[502,2.7],[518,2.9],[532,2.7],[545,2.1],[555,1.75],[570,2.1],[585,2.35],[600,2.5],[618,2.35],[635,1.8],[650,1.2],[662,1.2],[680,.95],[700,.85],[715,.8],[730,.7],[750,.8],[765,1.1],[780,1.7],[797,2.5],[815,2.6],[830,2.9],[845,3.25],[858,3.3],[870,3.7],[888,3.95],[895,5],[905,6.1],[925,6.2],[930,6.7],[945,7.2],[952,8.5],[960,9.2],[975,9.6],[990,9.85],[1010,9.95],[1030,10.3],[1045,10.75],[1060,10.95],[1075,11.55],[1095,11.6],[1115,11.3],[1135,10.9],[1155,10.75],[1172,10.7]];
const d770Curve=[[166,6.85],[175,6.4],[187,6],[205,6.15],[222,6.4],[240,6.5],[252,6.45],[265,6.3],[280,6.35],[300,6.1],[318,5.7],[345,5.75],[362,5.5],[378,5.35],[395,5.55],[410,5.55],[435,5.45],[470,5.6],[500,5.5],[520,5.25],[550,5.05],[565,5.15],[580,4.85],[597,4.55],[620,4.4],[640,3.95],[655,3.65],[682,3.55],[695,3.35],[710,3.6],[730,4.1],[755,4.2],[775,3.75],[795,3.5],[813,3.5],[832,2.95],[850,3.35],[870,4],[882,4.15],[895,3.8],[915,3.3],[930,2.9],[948,2.85],[965,2.5],[980,2.7],[997,2.8],[1015,2.7],[1030,2.55],[1050,2.4],[1060,1.8],[1068,1.2],[1085,.7],[1105,.45],[1125,.3],[1138,.15],[1150,.3],[1160,.48],[1168,.3]];
const l858Curve=[[166,13.2],[172,12.3],[180,11.2],[190,10],[205,8.9],[220,8],[237,7.1],[255,6.6],[275,6.35],[300,6.35],[320,6.25],[340,6.1],[365,6.05],[385,5.9],[405,5.75],[425,5.95],[460,6.15],[480,6.45],[495,6.85],[515,6.85],[535,6.75],[555,7.05],[570,7.15],[585,6.95],[610,6.7],[630,6.35],[650,6.05],[680,5.7],[705,5.55],[725,5.25],[750,5.1],[770,5.3],[790,5.35],[808,5.25],[820,4.8],[835,3.6],[850,2.6],[870,1.4],[885,.5],[900,.02],[915,.15],[930,.65],[945,1.4],[960,2.2],[975,2.65],[983,3.3],[993,4],[1012,4.1],[1030,4.7],[1050,5.6],[1070,6.7],[1090,7.35],[1110,7.65],[1130,7.85],[1147,8],[1160,7.8],[1170,7.65]];
const curveInactive=[[187,3.8],[173,6.5],[175,2.52],[166,6.88],[166,13.15]];
const curveActive=[[1179,9.85],[1173,13.55],[1188,10.82],[1178,.12],[1178,7.65]];
const progressTicks=[[187,405,625,841,1060],[173,346,518,691,863,1036,1208],[176,320,465,610,755,898,1044,1188],[166,347,525,705,883],[166,301,433,569,705,838,973,1107]];
const progressRange=[[137,1228],[124,1222],[124,1240],[115,1228],[115,1228]];
const greenBars=[[[712,5.4,13.3],[792,0,13.3]],[[942,2,11.25],[1102,1.85,13.8]],[[1047,.75,11.55]],[],[[1177,-.3,7.65]]];
const greenCaps=[[[668,835,13.3],[680,762,5.36],[757,842,0]],[[898,982,11.3],[898,982,1.98],[1063,1140,13.8],[1058,1142,1.85]],[[1003,1077,11.55],[1003,1077,.75]],[],[[1148,1208,7.65],[1148,1208,-.3]]];
const greenLabels=[[[650,8.87,'7.7'],[858,6.95,'13.3']],[[991,6.95,'9.8'],[1155,8.7,'12.1']],[[1112,6.87,'10.7']],[],[[1102,3.09,'8.0']]];
const blackArrows=[[[252,2.7,252,.8],[427,1.52,335,1.52]],[[597,5.4,597,3.5],[843,4.5,843,2.55]],[[222,3.34,222,1.47],[402,5.23,402,3.36],[733,3.13,733,1.26]],[],[]];
const blackLabels=[[[250,3.63,'α1'],[472,1.5,'α3']],[[597,6.4,'γ4'],[841,5.4,'γ3']],[[223,4.35,'β1'],[400,6.13,'β4'],[733,4.14,'β2']],[],[]];

const allRings=[wtRings,a763Rings,elreaRings,d770Rings,l858Rings];
const allPaths=[wtPath,a763Path,elreaPath,d770Path,l858Path];
const allCurves=[wtCurve,a763Curve,elreaCurve,d770Curve,l858Curve];

// Layout
const mapBox=[{x:52,w:232,y:43,h:281,cx:298,tx:168,ty:22,ctx:303,cty:3,nx:17,ny:184},{x:52,w:232,y:433,h:283,cx:298,tx:168,ty:413,ctx:303,cty:394,nx:17,ny:574},{x:52,w:232,y:827,h:282,cx:298,tx:168,ty:807,ctx:303,cty:787,nx:17,ny:967},{x:48,w:232,y:1225,h:283,cx:295,tx:165,ty:1205,ctx:300,cty:1186,nx:13,ny:1367},{x:47,w:233,y:1632,h:281,cx:295,tx:163,ty:1611,ctx:300,cty:1591,nx:12,ny:1772}];
const lineBox=[{x:406,w:363,y:38,h:297,lx:421,ly:47},{x:401,w:366,y:428,h:297,lx:416,ly:437},{x:401,w:372,y:812,h:301,lx:673,ly:821},{x:398,w:371,y:1207,h:301,lx:413,ly:1216},{x:398,w:371,y:1612,h:301,lx:670,ly:1621}];
const F='"DejaVu Sans"';
const X='path://M2.6,0L5,2.2L7.4,0L10,2.6L7.8,5L10,7.4L7.4,10L5,7.8L2.6,10L0,7.4L2.2,5L0,2.6Z';
const YEL='#f5c33b', GR='#5b8a72', DK='#222';
const minus=v=>String(v).replace('-','−');

const grid=[],xAxis=[],yAxis=[],series=[],title=[],legend=[],graphic=[];
const measure=document.createElement('canvas').getContext('2d');
function cvLabel(b){
  const seq=['CV1: d(N',['K745','Z'],', C',['E762','CD'],') − d(N',['K745','Z'],', C',['D855','CG'],') (nm)'];
  let pos=0;const kids=[];
  const w=(t,s)=>{measure.font=s+'px "DejaVu Sans"';return measure.measureText(t).width};
  seq.forEach(p=>{
    if(typeof p==='string'){kids.push({type:'text',x:pos,y:0,style:{text:p,font:'13.2px '+F,fill:'#222',textVerticalAlign:'middle'}});pos+=w(p,13.2);}
    else{
      kids.push({type:'text',x:pos,y:-5,style:{text:p[0],font:'8.8px '+F,fill:'#222',textVerticalAlign:'middle'}});
      kids.push({type:'text',x:pos,y:5,style:{text:p[1],font:'8.8px '+F,fill:'#222',textVerticalAlign:'middle'}});
      pos+=Math.max(w(p[0],8.8),w(p[1],8.8))+.5;
    }
  });
  return {type:'group',x:b.nx,y:b.ny+pos/2,rotation:Math.PI/2,silent:true,children:kids};
}
mapBox.forEach((b,i)=>{
  // map
  const gi=grid.length;
  grid.push({left:b.x,top:b.y,width:b.w,height:b.h,show:true,borderColor:'#9a9a9a',borderWidth:1.2,backgroundColor:'#fff',containLabel:false});
  xAxis.push({gridIndex:gi,type:'value',min:0,max:1,interval:.2,z:3,name:'CV2: distance from the refer.\ninactive conformation',nameLocation:'middle',nameGap:20,nameTextStyle:{fontFamily:F,fontSize:13,color:'#222',lineHeight:14.5},
    axisLine:{show:false},axisTick:{show:true,length:3,lineStyle:{color:'#555'}},axisLabel:{fontFamily:F,fontSize:14.5,color:'#222',margin:4,formatter:v=>v.toFixed(1)},splitLine:{show:true,lineStyle:{color:'rgba(150,150,150,.55)',type:[3,2],width:.8}}});
  yAxis.push({gridIndex:gi,type:'value',min:-2,max:3,interval:1,z:3,axisLine:{show:false},axisTick:{show:true,length:3,lineStyle:{color:'#555'}},axisLabel:{fontFamily:F,fontSize:14.5,color:'#222',margin:5,formatter:minus},splitLine:{show:true,lineStyle:{color:'rgba(150,150,150,.55)',type:[3,2],width:.8}}});
  const rings=allRings[i];
  series.push({type:'custom',xAxisIndex:gi,yAxisIndex:gi,z:1,silent:true,animation:false,clip:true,data:rings.map((r,k)=>[k]),encode:{x:-1,y:-1},
    renderItem:(p,api)=>{const r=rings[p.dataIndex],pts=[];for(let k=0;k<r[1].length;k+=2)pts.push(api.coord([r[1][k],r[1][k+1]]));
      return {type:'polygon',shape:{points:pts,smooth:.35},style:{fill:bandColors[r[0]],stroke:r[0]>=18?'#0d2c58':'rgba(25,25,25,.5)',lineWidth:r[0]>=18?1:.6}};}});
  series.push({type:'line',name:'path'+i,xAxisIndex:gi,yAxisIndex:gi,z:4,data:allPaths[i],showSymbol:false,silent:true,animation:false,lineStyle:{color:'#000',width:1.3}});
  series.push({type:'scatter',name:'inactive conf',xAxisIndex:gi,yAxisIndex:gi,z:5,silent:true,animation:false,symbol:X,symbolSize:16,itemStyle:{color:'#000'},data:[mapInactive[i]]});
  series.push({type:'scatter',name:'active conf',xAxisIndex:gi,yAxisIndex:gi,z:5,silent:true,animation:false,symbol:X,symbolSize:16,itemStyle:{color:YEL},data:[mapActive[i]]});
  if(mapLabels[i].length)series.push({type:'scatter',name:'map labels',xAxisIndex:gi,yAxisIndex:gi,z:6,silent:true,animation:false,symbolSize:1,itemStyle:{color:'transparent'},data:mapLabels[i].map(d=>({value:[d[0],d[1]],label:{show:true,position:'inside',formatter:d[2],color:d[3],fontFamily:F,fontSize:13.5,fontWeight:d[4]?'bold':'normal'}}))});
  graphic.push(cvLabel(b));
  title.push({text:panelNames[i],left:b.tx,top:b.ty,textAlign:'center',textVerticalAlign:'middle',padding:0,textStyle:{fontFamily:F,fontSize:14,fontWeight:'normal',color:'#222'}});
  title.push({text:'Free Energy\n(kcal/mol)',left:b.ctx,top:b.cty,textAlign:'center',padding:0,textStyle:{fontFamily:F,fontSize:11.2,fontWeight:'normal',color:'#222',lineHeight:13,align:'center'}});
  // colour bar
  const ci=grid.length;
  grid.push({left:b.cx,top:b.y,width:15,height:b.h,show:false});
  xAxis.push({gridIndex:ci,type:'value',min:0,max:1,show:false});
  yAxis.push({gridIndex:ci,type:'value',min:0,max:19,position:'right',axisLine:{show:false},axisTick:{show:true,length:3,lineStyle:{color:'#333'},customValues:cbTicks},axisLabel:{fontFamily:F,fontSize:14.5,color:'#222',margin:4,customValues:cbTicks},splitLine:{show:false}});
  series.push({type:'custom',name:'scale',xAxisIndex:ci,yAxisIndex:ci,silent:true,animation:false,data:bandValues.map(v=>[v]),encode:{x:-1,y:-1},
    renderItem:(p,api)=>{const v=bandValues[p.dataIndex],a=api.coord([0,v+1]),c=api.coord([1,v]);return {type:'rect',shape:{x:a[0],y:a[1],width:c[0]-a[0],height:c[1]-a[1]+.5},style:{fill:bandColors[v]}};}});
});
lineBox.forEach((b,i)=>{
  const gi=grid.length, gs={color:GR,width:1.8,type:'solid'}, ks={color:'#2a2a2a',width:1.8,type:'solid'};
  grid.push({left:b.x,top:b.y,width:b.w,height:b.h,show:true,borderColor:'#8a8a8a',borderWidth:1.2,backgroundColor:'#fff'});
  xAxis.push({gridIndex:gi,type:'value',min:progressRange[i][0],max:progressRange[i][1],name:'Progretion along the minimum free energy path',nameLocation:'middle',nameGap:17,nameTextStyle:{fontFamily:F,fontSize:10.5,color:'#222'},axisLine:{show:false},axisTick:{show:true,length:2,lineStyle:{color:'#999'},customValues:progressTicks[i]},axisLabel:{show:false},splitLine:{show:false}});
  yAxis.push({gridIndex:gi,type:'value',min:-1,max:18,name:'Energy (kcal/mol)',nameLocation:'middle',nameGap:23,nameRotate:90,nameTextStyle:{fontFamily:F,fontSize:10.8,color:'#222'},axisLine:{show:false},axisTick:{show:true,length:3,lineStyle:{color:'#555'},customValues:energyTicks},axisLabel:{fontFamily:F,fontSize:11,color:'#222',margin:5,customValues:energyTicks},splitLine:{show:true,lineStyle:{color:'#c4c4c4',type:[2,1],width:.9}}});
  const md=[];
  greenCaps[i].forEach(c=>md.push([{coord:[c[0],c[2]],symbol:'none',lineStyle:gs},{coord:[c[1],c[2]],symbol:'none'}]));
  greenBars[i].forEach(c=>md.push([{coord:[c[0],c[1]],symbol:'triangle',symbolSize:10,lineStyle:gs},{coord:[c[0],c[2]],symbol:'triangle',symbolSize:10}]));
  blackArrows[i].forEach(c=>md.push([{coord:[c[0],c[1]],symbol:'none',lineStyle:ks},{coord:[c[2],c[3]],symbol:'triangle',symbolSize:10}]));
  series.push({type:'line',name:'profile'+i,xAxisIndex:gi,yAxisIndex:gi,z:3,data:allCurves[i],showSymbol:false,smooth:.25,silent:true,animation:false,lineStyle:{color:'#000',width:1},
    markLine:{silent:true,animation:false,label:{show:false},symbol:['none','none'],lineStyle:{type:'solid'},data:md}});
  series.push({type:'scatter',name:'active conf',xAxisIndex:gi,yAxisIndex:gi,z:5,silent:true,animation:false,symbol:X,symbolSize:12,itemStyle:{color:YEL},data:[curveActive[i]]});
  series.push({type:'scatter',name:'inactive conf',xAxisIndex:gi,yAxisIndex:gi,z:5,silent:true,animation:false,symbol:X,symbolSize:12,itemStyle:{color:'#000'},data:[curveInactive[i]]});
  const txt=greenLabels[i].map(d=>({value:[d[0],d[1]],label:{show:true,position:'inside',formatter:d[2],color:GR,fontFamily:'"Open Sans"',fontSize:15,fontWeight:'bold'}})).concat(
    blackLabels[i].map(d=>({value:[d[0],d[1]],label:{show:true,position:'inside',formatter:d[2],color:'#2a2a2a',fontFamily:'"Open Sans"',fontSize:15,fontWeight:'bold'}})));
  if(txt.length)series.push({type:'scatter',name:'notes',xAxisIndex:gi,yAxisIndex:gi,z:6,silent:true,animation:false,symbolSize:1,itemStyle:{color:'transparent'},data:txt});
  legend.push({left:b.lx,top:b.ly,orient:'vertical',itemWidth:12,itemHeight:12,itemGap:4,padding:0,selectedMode:false,icon:X,textStyle:{fontFamily:F,fontSize:10.8,color:'#222'},data:['active conf','inactive conf']});
});
const chart=echarts.init(document.getElementById('c'),null,{renderer:'canvas',width:790,height:1965});
chart.setOption({animation:false,backgroundColor:'#fff',grid,xAxis,yAxis,series,title,legend,graphic:{elements:graphic}});
</script></body></html>
